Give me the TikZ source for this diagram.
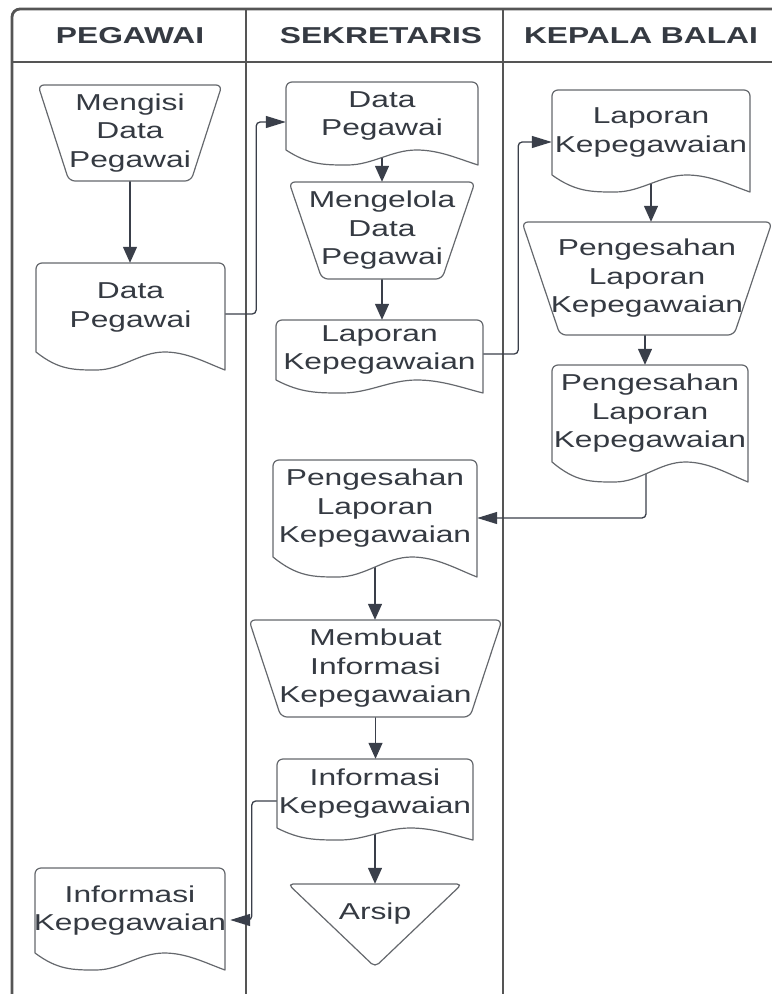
\documentclass[tikz,border=0pt]{standalone}
\usepackage{fontspec}
\setmainfont{Liberation Sans}[FakeStretch=1.38]
\usetikzlibrary{arrows.meta,calc}
\pgfdeclarelayer{bg}
\pgfsetlayers{bg,main}
\definecolor{txtc}{HTML}{353A42}
\definecolor{linec}{HTML}{3A3F4A}
\definecolor{shapec}{HTML}{65686D}
\definecolor{lanec}{HTML}{555555}
\tikzset{
 nodetext/.style={inner sep=0pt, align=center, text=txtc, font=\fontsize{23bp}{28.5bp}\selectfont},
 headtext/.style={inner sep=0pt, text=txtc, font=\fontsize{23bp}{28bp}\selectfont\bfseries},
 shapeline/.style={draw=shapec, line width=1.2bp, fill=white, line join=round},
 lane/.style={draw=lanec, line width=2.8bp},
 conn/.style={draw=linec, line width=1.3bp, rounded corners=4bp},
 varr/.style={conn, -{Triangle[length=16bp,width=14bp]}},
 harr/.style={conn, -{Triangle[length=20bp,width=12bp]}},
}
% document node: name, L, R, T, Yb (body bottom), d (wave depth), text
\newcommand\docnode[7]{%
 \node[nodetext, minimum width={(#3-#2)*1bp}, minimum height={(#5-#4)*1bp}] (#1) at ({(#2+#3)/2},{(#4+#5)/2}) {};
 \fill[white] (#2,#5) .. controls ({#2+0.12*(#3-#2)},{#5+#6}) and ({#2+0.2*(#3-#2)},{#5+#6}) .. ({#2+0.32*(#3-#2)},{#5+#6})
   .. controls ({#2+0.45*(#3-#2)},{#5+#6}) and ({#2+0.55*(#3-#2)},{#5}) .. ({#2+0.68*(#3-#2)},{#5})
   .. controls ({#2+0.8*(#3-#2)},{#5}) and ({#2+0.9*(#3-#2)},{#5+0.6*#6}) .. (#3,{#5+#6})
   -- (#3,#4) -- (#2,#4) -- cycle;
 \draw[shapeline, fill=none] (#2,#5) .. controls ({#2+0.12*(#3-#2)},{#5+#6}) and ({#2+0.2*(#3-#2)},{#5+#6}) .. ({#2+0.32*(#3-#2)},{#5+#6})
   .. controls ({#2+0.45*(#3-#2)},{#5+#6}) and ({#2+0.55*(#3-#2)},{#5}) .. ({#2+0.68*(#3-#2)},{#5})
   .. controls ({#2+0.8*(#3-#2)},{#5}) and ({#2+0.9*(#3-#2)},{#5+0.6*#6}) .. (#3,{#5+#6})
   [rounded corners=6bp] -- (#3,#4) -- (#2,#4) -- (#2,{#4+20}) [sharp corners] -- (#2,#5);
 \node[nodetext] at (#1.center) {#7};
}
% manual operation node: name, L, R, T, B, inset, text
\newcommand\manopnode[7]{%
 \node[nodetext, minimum width={(#3-#2)*1bp}, minimum height={(#5-#4)*1bp}] (#1) at ({(#2+#3)/2},{(#4+#5)/2}) {};
 \draw[shapeline, rounded corners=6bp] (#2,#4) -- (#3,#4) -- ({#3-#6},#5) -- ({#2+#6},#5) -- cycle;
 \node[nodetext] at (#1.center) {#7};
}
\begin{document}
\begin{tikzpicture}[x=1bp,y=-1bp]
\useasboundingbox (0,0) rectangle (772,994);
\begin{pgfonlayer}{bg}
 \begin{scope}
 \clip (0,0) rectangle (772,994);
 \draw[lane, rounded corners=8bp] (800,9) -- (12,9) -- (12,1010);
 \draw[lane] (12,62) -- (800,62);
 \draw[lane] (246,9) -- (246,1010);
 \draw[lane] (503,9) -- (503,1010);
 \end{scope}
\end{pgfonlayer}
\node[headtext] (hpeg) at (130,36) {PEGAWAI};
\node[headtext] (hsek) at (381,36) {SEKRETARIS};
\node[headtext] (hkep) at (641,36) {KEPALA BALAI};

% PEGAWAI
\manopnode{m1}{38}{222}{85}{181}{31}{Mengisi\\Data\\Pegawai}
\docnode{d1}{36}{225}{263}{352}{18}{Data\\Pegawai}
\docnode{p2}{35}{225}{868}{953}{17}{Informasi\\Kepegawaian}

% SEKRETARIS
\docnode{d2}{286}{478}{82}{150}{15}{Data\\Pegawai}
\manopnode{m2}{289}{475}{182}{279}{33}{Mengelola\\Data\\Pegawai}
\docnode{l1}{276}{483}{320}{380}{13}{Laporan\\Kepegawaian}
\docnode{s1}{273}{477}{460}{557}{20}{Pengesahan\\Laporan\\Kepegawaian}
\manopnode{s2}{249}{502}{620}{717}{32}{Membuat\\Informasi\\Kepegawaian}
\docnode{s3}{277}{473}{759}{828}{12}{Informasi\\Kepegawaian}
\node[nodetext, minimum width=174bp, minimum height=60bp] (arsip) at (375,914) {};
\draw[shapeline, rounded corners=5bp] (288,884) -- (462,884) -- (375,967) -- cycle;
\node[nodetext] at (arsip.center) {Arsip};

% KEPALA BALAI
\docnode{k1}{552}{750}{90}{175}{17}{Laporan\\Kepegawaian}
\manopnode{k2}{522}{772}{222}{335}{38}{Pengesahan\\Laporan\\Kepegawaian}
\docnode{k3}{552}{748}{365}{462}{20}{Pengesahan\\Laporan\\Kepegawaian}

% connectors
\begin{pgfonlayer}{bg}
\draw[varr] (m1.south) -- (m1.south |- d1.north);
\draw[harr] ([yshift=-6.5bp]d1.east) -- ++(31,0) |- ([yshift=-6bp]d2.west);
\draw[varr] (d2.south) -- (d2.south |- m2.north);
\draw[varr] (m2.south) -- (m2.south |- l1.north);
\draw[harr] ([yshift=-4bp]l1.east) -- ++(35,0) |- ([yshift=-9.5bp]k1.west);
\draw[varr] (k1.south) -- (k1.south |- k2.north);
\draw[varr] ([xshift=-2bp]k2.south) -- ([xshift=-2bp]k2.south |- k3.north);
\draw[harr] ([xshift=-4bp]k3.south) |- ([yshift=-9.5bp]s1.east);
\draw[varr] (s1.south) -- (s1.south |- s2.north);
\draw[varr] (s2.south) -- (s2.south |- s3.north);
\draw[harr] ([yshift=-7.5bp]s3.west) -- ++(-25,0) |- ([xshift=5bp,yshift=-9.5bp]p2.east);
\draw[varr] (s3.south) -- (s3.south |- arsip.north);
\end{pgfonlayer}
\end{tikzpicture}
\end{document}
